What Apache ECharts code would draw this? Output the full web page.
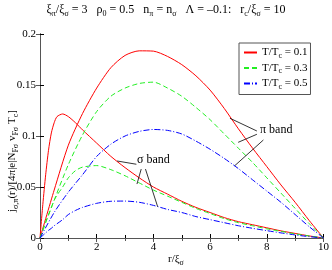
<!DOCTYPE html>
<html><head><meta charset="utf-8">
<script src="https://cdn.jsdelivr.net/npm/echarts@6/dist/echarts.min.js"></script>
<style>html,body{margin:0;padding:0;background:#fff}#c{width:332px;height:270px}</style>
</head><body><div id="c"></div>
<script>
// ---- data ----
const rPi = [0,0.5,1,1.5,2,2.5,3,3.5,4,4.5,5,5.5,6,6.5,7,7.5,8,8.5,9,9.5,10];
const piT01 = [0,0.047,0.091,0.122,0.147,0.167,0.179,0.1835,0.1832,0.178,0.170,0.159,0.145,0.127,0.107,0.088,0.070,0.052,0.035,0.017,0];
const piT03 = [0,0.037,0.072,0.101,0.124,0.139,0.147,0.1515,0.1528,0.147,0.139,0.128,0.116,0.102,0.088,0.074,0.059,0.044,0.029,0.014,0];
const piT05 = [0,0.025,0.045,0.062,0.080,0.092,0.100,0.1045,0.1064,0.1055,0.102,0.095,0.087,0.078,0.068,0.057,0.046,0.035,0.023,0.011,0];
const rSig = [0,0.1,0.2,0.3,0.4,0.5,0.6,0.8,1,1.25,1.5,2,2.5,3,3.5,4,4.5,5,5.5,6,6.5,7,7.5,8,8.5,9,9.5,10];
const sigT01 = [0,0.033,0.062,0.086,0.103,0.113,0.119,0.1216,0.119,0.113,0.106,0.093,0.080,0.069,0.059,0.050,0.043,0.036,0.030,0.025,0.020,0.016,0.013,0.010,0.007,0.0045,0.002,0];
const sigT03 = [0,0.008,0.016,0.023,0.030,0.037,0.042,0.050,0.059,0.066,0.0695,0.071,0.067,0.061,0.054,0.047,0.041,0.035,0.029,0.024,0.019,0.015,0.012,0.009,0.0065,0.004,0.002,0];
const sigT05 = [0,0.0025,0.005,0.0075,0.0095,0.012,0.014,0.018,0.023,0.027,0.030,0.034,0.036,0.0362,0.035,0.032,0.028,0.025,0.021,0.018,0.015,0.012,0.0095,0.0072,0.005,0.003,0.0013,0];
const temps = ['0.1','0.3','0.5'];
const xTicks = [0,2,4,6,8,10];
const yTicks = [0,0.05,0.1,0.15,0.2];
// annotation arrows [start, tip] in data units
const sigmaArrows = [[[3.40,0.0723],[2.72,0.0755]],[[3.57,0.0676],[3.42,0.0529]],[[3.72,0.0676],[4.15,0.0307]]];
const piArrows = [[[7.65,0.1049],[6.70,0.1174]],[[7.65,0.1017],[6.99,0.0938]],[[7.88,0.0961],[6.87,0.0709]]];

const FF = 'Liberation Serif';
const colors = ['#ff0000','#22ee22','#0000ff'];
const dashes = ['solid',[5,3],[6,2,1,2]];
const names = temps.map(t => 'T/Tc = ' + t);
const zip = (r, v) => r.map((x, i) => [x, v[i]]);
const curves = [[piT01, sigT01],[piT03, sigT03],[piT05, sigT05]];

const series = [];
curves.forEach((pair, k) => {
  [[rPi, pair[0]], [rSig, pair[1]]].forEach(([r, v]) => {
    series.push({
      type: 'line', name: names[k], data: zip(r, v), smooth: 0.25,
      symbol: 'none', showSymbol: false, animation: false,
      lineStyle: { color: colors[k], width: 1, type: dashes[k] },
      itemStyle: { color: colors[k] }
    });
  });
});
const arrowLines = sigmaArrows.concat(piArrows).map(a => [{ coord: a[0] }, { coord: a[1] }]);
series.push({
  type: 'line', data: [], silent: true, animation: false,
  markLine: { silent: true, animation: false, symbol: ['none', 'arrow'], symbolSize: [0, 6],
    label: { show: false }, lineStyle: { color: '#000', width: 0.8, type: 'solid' }, data: arrowLines }
});

const sub = { fontFamily: FF, fontSize: 8, padding: [7, 0, 0, 0], color: '#000' };
const chart = echarts.init(document.getElementById('c'));
const axCommon = {
  type: 'value', splitLine: { show: false },
  axisTick: { inside: true, length: 4, lineStyle: { color: '#000' } },
};
chart.setOption({
  animation: false,
  grid: { left: 40, right: 6, top: 34, bottom: 32 },
  xAxis: [
    Object.assign({}, axCommon, { min: xTicks[0], max: xTicks[xTicks.length-1], interval: 2,
      axisLine: { lineStyle: { color: '#000', width: 1 } },
      minorTick: { show: true, splitNumber: 2, length: 3, lineStyle: { color: '#000' } },
      axisLabel: { fontFamily: FF, fontSize: 11, color: '#000', margin: 4 } }),
    Object.assign({}, axCommon, { position: 'top', min: 0, max: 10, interval: 2,
      axisLine: { lineStyle: { color: '#555', width: 1 } },
      minorTick: { show: true, splitNumber: 2, length: 3, lineStyle: { color: '#555' } },
      axisTick: { inside: true, length: 4, lineStyle: { color: '#555' } },
      axisLabel: { show: false } })
  ],
  yAxis: [
    Object.assign({}, axCommon, { min: yTicks[0], max: yTicks[yTicks.length-1], interval: 0.05,
      axisLine: { show: true, lineStyle: { color: '#000', width: 1 } },
      axisLabel: { fontFamily: FF, fontSize: 11, color: '#000', margin: 4,
        formatter: v => String(+v.toFixed(2)) } }),
    Object.assign({}, axCommon, { position: 'right', min: 0, max: 0.2, interval: 0.05,
      axisLine: { show: true, lineStyle: { color: '#555', width: 1 } },
      axisTick: { inside: true, length: 4, lineStyle: { color: '#555' } },
      axisLabel: { show: false } })
  ],
  legend: {
    data: names, orient: 'vertical', left: 239, top: 43,
    itemWidth: 13, itemHeight: 8, itemGap: 3,
    itemStyle: { opacity: 0 },
    padding: [4, 3, 4, 4], borderColor: '#555', borderWidth: 1, backgroundColor: '#fff',
    selectedMode: false,
    textStyle: { fontFamily: FF, fontSize: 11, color: '#000',
      rich: { s: { fontFamily: FF, fontSize: 8, padding: [6, 0, 0, 0], color: '#000' } } },
    formatter: n => 'T/T{s|c} = ' + n.split('= ')[1]
  },
  series: series,
  graphic: [
    { type: 'text', left: 'center', top: 4, style: {
      text: 'ξ{s|π}/ξ{s|σ} = 3   ρ{s|0} = 0.5   n{s|π} = n{s|σ}   Λ = –0.1:   r{s|c}/ξ{s|σ} = 10',
      fontFamily: FF, fontSize: 12, fill: '#000', rich: { s: Object.assign({}, sub) } } },
    { type: 'text', x: 168, y: 252, style: {
      text: 'r/ξ{s|σ}', fontFamily: FF, fontSize: 11, fill: '#000', rich: { s: Object.assign({}, sub) } } },
    { type: 'text', x: 5, y: 212, rotation: Math.PI / 2, style: {
      text: 'j{s|σ,π}(r)/[4π|e|N{s|Fσ} v{s|Fσ} T{s|c}]',
      fontFamily: FF, fontSize: 11, fill: '#000', rich: { s: Object.assign({}, sub) } } },
    { type: 'text', x: 137, y: 154, style: { text: 'σ band', fontFamily: FF, fontSize: 12, fill: '#000' } },
    { type: 'text', x: 260, y: 124, style: { text: 'π band', fontFamily: FF, fontSize: 12, fill: '#000' } }
  ]
});
</script></body></html>
